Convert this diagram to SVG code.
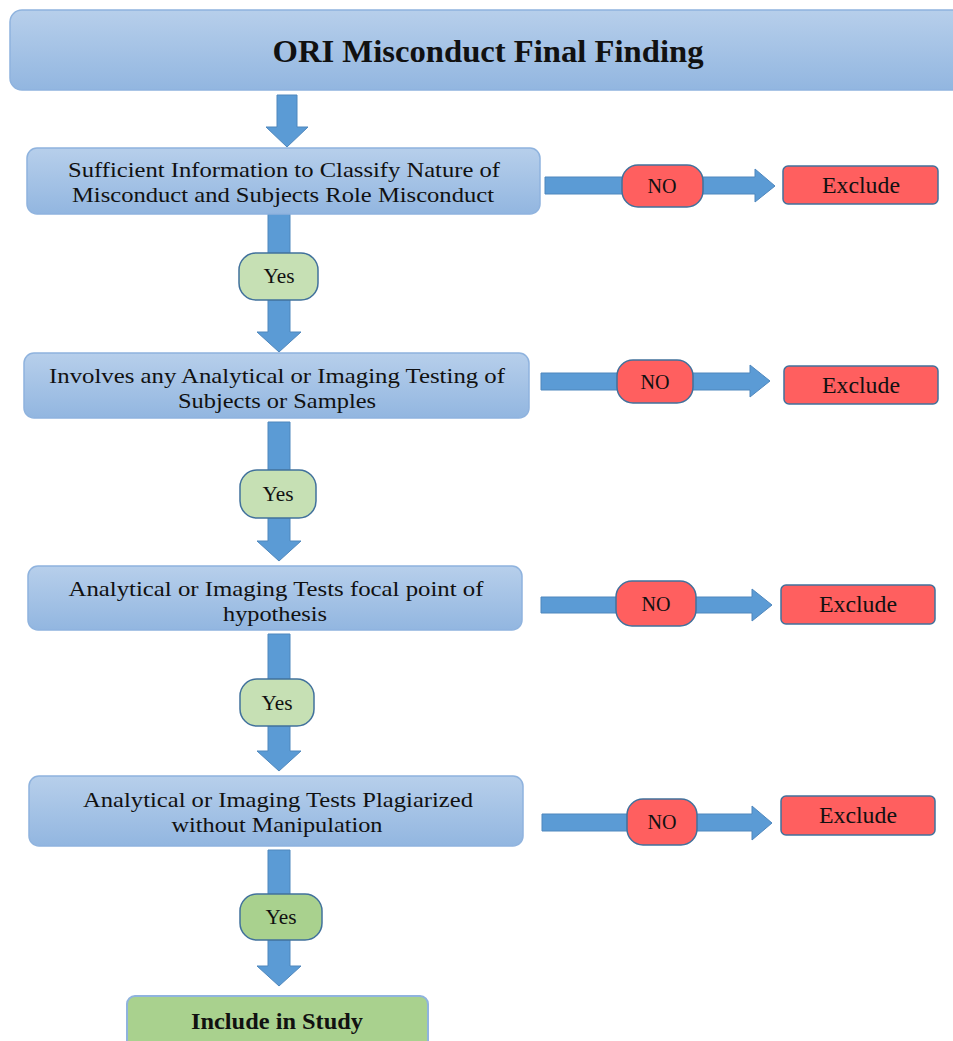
<svg xmlns="http://www.w3.org/2000/svg" width="953" height="1041" viewBox="0 0 953 1041">
<defs>
<linearGradient id="bg" x1="0" y1="0" x2="0" y2="1">
<stop offset="0" stop-color="#b7cfeb"/>
<stop offset="1" stop-color="#92b6e0"/>
</linearGradient>
<style>
.box{fill:url(#bg);stroke:#8fb3de;stroke-width:1.5}
.arr{fill:#5b9bd5;stroke:#4f87bd;stroke-width:1}
.no{fill:#ff5f5f;stroke:#41719c;stroke-width:1.5}
.ex{fill:#ff5f5f;stroke:#41719c;stroke-width:1.5}
.yes{fill:#c6e0b4;stroke:#41719c;stroke-width:1.5}
.yes2{fill:#a9d18e;stroke:#41719c;stroke-width:1.5}
.inc{fill:#a9d18e;stroke:#8fb3de;stroke-width:2}
text{font-family:"Liberation Serif","Tinos","DejaVu Serif",serif;fill:#111;text-anchor:middle}
.t{font-size:21.5px}
.e{font-size:24px}
.s{font-size:20px}
.y{font-size:20px}
</style>
</defs>
<rect width="953" height="1041" fill="#fff"/>
<g id="connectors">
<polygon class="arr" points="277,95 297,95 297,127 308,127 287,147 266,127 277,127"/>
<polygon class="arr" points="545,177 755,177 755,169 775,186 755,202 755,194 545,194"/>
<polygon class="arr" points="268,214 290,214 290,332 301,332 279,352 257,332 268,332"/>
<polygon class="arr" points="541,373 750,373 750,365 770,381 750,397 750,390 541,390"/>
<polygon class="arr" points="268,422 290,422 290,541 301,541 279,561 257,541 268,541"/>
<polygon class="arr" points="541,597 752,597 752,589 772,605 752,621 752,613 541,613"/>
<polygon class="arr" points="268,634 290,634 290,751 301,751 279,771 257,751 268,751"/>
<polygon class="arr" points="542,814 752,814 752,806 772,823 752,840 752,831 542,831"/>
<polygon class="arr" points="268,850 290,850 290,966 301,966 279,986 257,966 268,966"/>
</g>
<g id="title"><rect class="box" x="10" y="10" width="960" height="80" rx="12"/><text x="488" y="62" textLength="431" lengthAdjust="spacingAndGlyphs" style="font-size:32px;font-weight:bold">ORI Misconduct Final Finding</text></g>
<g id="q1"><rect class="box" x="27" y="148" width="513" height="66" rx="10"/><text class="t" x="284" y="177" textLength="432" lengthAdjust="spacingAndGlyphs">Sufficient Information to Classify Nature of</text><text class="t" x="283" y="202" textLength="422" lengthAdjust="spacingAndGlyphs">Misconduct and Subjects Role Misconduct</text></g>
<g id="no1"><rect class="no" x="622" y="165" width="81" height="42" rx="16"/><text class="s" x="662" y="193" textLength="29" lengthAdjust="spacingAndGlyphs">NO</text></g>
<g id="ex1"><rect class="ex" x="783" y="166" width="155" height="38" rx="5"/><text class="e" x="861" y="193" textLength="78" lengthAdjust="spacingAndGlyphs">Exclude</text></g>
<g id="yes1"><rect class="yes" x="239" y="253" width="79" height="47" rx="17"/><text class="y" x="279" y="283" textLength="31" lengthAdjust="spacingAndGlyphs">Yes</text></g>
<g id="q2"><rect class="box" x="24" y="353" width="505" height="65" rx="10"/><text class="t" x="277" y="383" textLength="456" lengthAdjust="spacingAndGlyphs">Involves any Analytical or Imaging Testing of</text><text class="t" x="277" y="408" textLength="198" lengthAdjust="spacingAndGlyphs">Subjects or Samples</text></g>
<g id="no2"><rect class="no" x="617" y="360" width="76" height="43" rx="16"/><text class="s" x="655" y="389" textLength="29" lengthAdjust="spacingAndGlyphs">NO</text></g>
<g id="ex2"><rect class="ex" x="784" y="366" width="154" height="38" rx="5"/><text class="e" x="861" y="393" textLength="78" lengthAdjust="spacingAndGlyphs">Exclude</text></g>
<g id="yes2"><rect class="yes" x="240" y="470" width="76" height="48" rx="17"/><text class="y" x="278" y="501" textLength="31" lengthAdjust="spacingAndGlyphs">Yes</text></g>
<g id="q3"><rect class="box" x="28" y="566" width="494" height="64" rx="10"/><text class="t" x="276" y="596" textLength="415" lengthAdjust="spacingAndGlyphs">Analytical or Imaging Tests focal point of</text><text class="t" x="275" y="621" textLength="104" lengthAdjust="spacingAndGlyphs">hypothesis</text></g>
<g id="no3"><rect class="no" x="616" y="581" width="80" height="45" rx="16"/><text class="s" x="656" y="611" textLength="29" lengthAdjust="spacingAndGlyphs">NO</text></g>
<g id="ex3"><rect class="ex" x="781" y="585" width="154" height="39" rx="5"/><text class="e" x="858" y="612" textLength="78" lengthAdjust="spacingAndGlyphs">Exclude</text></g>
<g id="yes3"><rect class="yes" x="240" y="679" width="74" height="47" rx="17"/><text class="y" x="277" y="710" textLength="31" lengthAdjust="spacingAndGlyphs">Yes</text></g>
<g id="q4"><rect class="box" x="29" y="776" width="494" height="70" rx="10"/><text class="t" x="278" y="807" textLength="390" lengthAdjust="spacingAndGlyphs">Analytical or Imaging Tests Plagiarized</text><text class="t" x="277" y="832" textLength="211" lengthAdjust="spacingAndGlyphs">without Manipulation</text></g>
<g id="no4"><rect class="no" x="627" y="799" width="70" height="46" rx="16"/><text class="s" x="662" y="829" textLength="29" lengthAdjust="spacingAndGlyphs">NO</text></g>
<g id="ex4"><rect class="ex" x="781" y="796" width="154" height="39" rx="5"/><text class="e" x="858" y="823" textLength="78" lengthAdjust="spacingAndGlyphs">Exclude</text></g>
<g id="yes4"><rect class="yes2" x="240" y="894" width="82" height="46" rx="17"/><text class="y" x="281" y="924" textLength="31" lengthAdjust="spacingAndGlyphs">Yes</text></g>
<g id="include"><rect class="inc" x="127" y="996" width="301" height="60" rx="8"/><text x="277" y="1029" textLength="172" lengthAdjust="spacingAndGlyphs" style="font-size:23px;font-weight:bold">Include in Study</text></g>
</svg>
